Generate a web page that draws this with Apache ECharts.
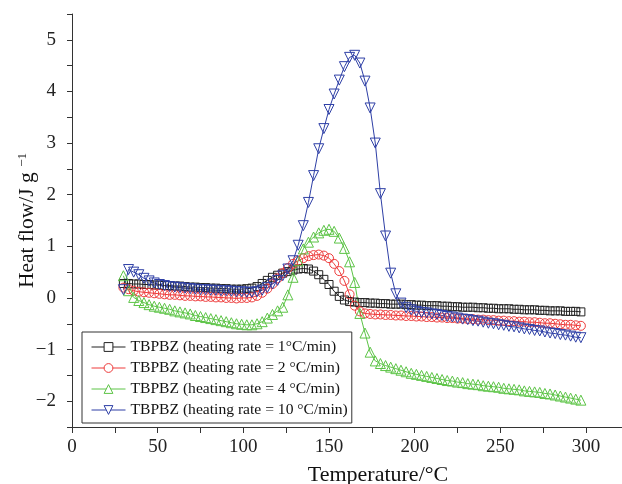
<!DOCTYPE html>
<html>
<head>
<meta charset="utf-8">
<title>TBPBZ DSC curves</title>
<script src="https://cdn.jsdelivr.net/npm/echarts@6/dist/echarts.min.js"></script>
<style>
  html, body { margin: 0; padding: 0; background: #fff; }
  #chart { width: 622px; height: 484px; }
</style>
</head>
<body>
<div id="chart"></div>
<script>
// Temperature (°C) at which each heat-flow reading was taken
const temperature = [
  30, 33, 36, 39, 42, 45, 48, 51, 54, 57, 60, 63, 66, 69, 72, 75, 78, 81, 84, 87,
  90, 93, 96, 99, 102, 105, 108, 111, 114, 117, 120, 123, 126, 129, 132, 135, 138, 141, 144, 147,
  150, 153, 156, 159, 162, 165, 168, 171, 174, 177, 180, 183, 186, 189, 192, 195, 198, 201, 204, 207,
  210, 213, 216, 219, 222, 225, 228, 231, 234, 237, 240, 243, 246, 249, 252, 255, 258, 261, 264, 267,
  270, 273, 276, 279, 282, 285, 288, 291, 294, 297
];

// Heat flow (J/g) at 1 °C/min
const rate1 = [
  0.28, 0.28, 0.27, 0.27, 0.26, 0.26, 0.25, 0.25, 0.24, 0.24, 0.23, 0.23, 0.22, 0.21, 0.21, 0.20, 0.20, 0.19, 0.19, 0.18,
  0.18, 0.17, 0.17, 0.17, 0.18, 0.19, 0.22, 0.28, 0.34, 0.40, 0.44, 0.48, 0.51, 0.54, 0.56, 0.57, 0.56, 0.52, 0.45, 0.36,
  0.26, 0.13, 0.03, -0.04, -0.07, -0.08, -0.09, -0.09, -0.10, -0.10, -0.11, -0.11, -0.12, -0.12, -0.12, -0.13, -0.13, -0.14, -0.14, -0.15,
  -0.15, -0.15, -0.16, -0.16, -0.17, -0.17, -0.18, -0.18, -0.18, -0.19, -0.19, -0.20, -0.20, -0.21, -0.21, -0.21, -0.22, -0.22, -0.23, -0.23,
  -0.23, -0.24, -0.24, -0.25, -0.25, -0.25, -0.26, -0.26, -0.26, -0.27
];

// Heat flow (J/g) at 2 °C/min
const rate2 = [
  0.20, 0.17, 0.14, 0.12, 0.11, 0.10, 0.09, 0.08, 0.07, 0.06, 0.06, 0.05, 0.04, 0.04, 0.03, 0.03, 0.02, 0.02, 0.01, 0.01,
  0.00, 0.00, -0.01, 0.00, 0.00, 0.01, 0.04, 0.10, 0.18, 0.27, 0.38, 0.48, 0.58, 0.66, 0.72, 0.77, 0.81, 0.83, 0.84, 0.82,
  0.77, 0.66, 0.52, 0.33, 0.07, -0.15, -0.26, -0.30, -0.31, -0.32, -0.32, -0.33, -0.33, -0.34, -0.34, -0.35, -0.35, -0.36, -0.36, -0.37,
  -0.37, -0.38, -0.38, -0.39, -0.39, -0.40, -0.40, -0.41, -0.41, -0.42, -0.42, -0.43, -0.43, -0.44, -0.44, -0.45, -0.45, -0.46, -0.46, -0.47,
  -0.47, -0.48, -0.49, -0.49, -0.50, -0.51, -0.52, -0.52, -0.53, -0.54
];

// Heat flow (J/g) at 4 °C/min
const rate4 = [
  0.43, 0.14, 0.01, -0.05, -0.09, -0.13, -0.16, -0.18, -0.20, -0.22, -0.25, -0.27, -0.29, -0.31, -0.34, -0.36, -0.38, -0.40, -0.42, -0.44,
  -0.46, -0.48, -0.50, -0.51, -0.52, -0.52, -0.50, -0.46, -0.39, -0.32, -0.25, -0.18, 0.06, 0.40, 0.72, 0.95, 1.08, 1.18, 1.26, 1.31,
  1.33, 1.29, 1.16, 0.96, 0.70, 0.30, -0.30, -0.68, -1.05, -1.22, -1.27, -1.31, -1.34, -1.37, -1.40, -1.43, -1.46, -1.48, -1.50, -1.52,
  -1.54, -1.56, -1.58, -1.60, -1.61, -1.63, -1.64, -1.66, -1.67, -1.68, -1.70, -1.71, -1.72, -1.73, -1.75, -1.76, -1.77, -1.78, -1.80, -1.81,
  -1.82, -1.83, -1.85, -1.86, -1.88, -1.90, -1.92, -1.94, -1.96, -1.98
];

// Heat flow (J/g) at 10 °C/min
const rate10 = [
  0.16, 0.55, 0.50, 0.45, 0.38, 0.33, 0.29, 0.26, 0.24, 0.22, 0.21, 0.20, 0.19, 0.18, 0.17, 0.16, 0.16, 0.15, 0.15, 0.14,
  0.14, 0.13, 0.12, 0.12, 0.11, 0.11, 0.12, 0.15, 0.20, 0.27, 0.34, 0.43, 0.56, 0.72, 1.02, 1.40, 1.85, 2.37, 2.89, 3.28,
  3.65, 3.95, 4.22, 4.48, 4.66, 4.70, 4.55, 4.20, 3.68, 3.00, 2.02, 1.20, 0.48, 0.08, -0.10, -0.19, -0.23, -0.26, -0.28, -0.29,
  -0.31, -0.32, -0.34, -0.36, -0.37, -0.39, -0.41, -0.42, -0.44, -0.45, -0.47, -0.49, -0.50, -0.52, -0.53, -0.55, -0.56, -0.58, -0.60, -0.61,
  -0.63, -0.64, -0.66, -0.68, -0.69, -0.71, -0.72, -0.74, -0.76, -0.77
];

const seriesNames = [
  'TBPBZ (heating rate = 1°C/min)',
  'TBPBZ (heating rate = 2 °C/min)',
  'TBPBZ (heating rate = 4 °C/min)',
  'TBPBZ (heating rate = 10 °C/min)'
];

const FONT = "'Liberation Serif', 'Times New Roman', serif";
const AXIS_COLOR = '#333';

function pairs(values) {
  return temperature.map((t, i) => [t, values[i]]);
}

function curve(name, values, color, symbol, size, rotate) {
  return {
    name: name,
    type: 'line',
    data: pairs(values),
    symbol: symbol,
    symbolSize: size,
    symbolRotate: rotate || 0,
    showAllSymbol: true,
    lineStyle: { color: color, width: 1 },
    itemStyle: { color: 'rgba(255,255,255,0)', borderColor: color, borderWidth: 1 },
    emphasis: { disabled: true }
  };
}

const chart = echarts.init(document.getElementById('chart'), null, { renderer: 'canvas' });

chart.setOption({
  animation: false,
  backgroundColor: '#fff',
  grid: { left: 72, right: 0, top: 14, bottom: 57, containLabel: false, outerBoundsMode: 'none' },
  legend: {
    orient: 'vertical',
    left: 82,
    top: 332,
    padding: [7, 4, 5, 9],
    itemGap: 5,
    itemWidth: 34,
    itemHeight: 11,
    borderColor: '#333',
    borderWidth: 1,
    backgroundColor: '#fff',
    itemStyle: { color: '#fff', borderWidth: 1 },
    lineStyle: { width: 1 },
    textStyle: { fontFamily: FONT, fontSize: 15.6, lineHeight: 16, color: '#111' },
    data: seriesNames
  },
  xAxis: {
    type: 'value',
    min: 0,
    max: 321,
    interval: 25,
    name: 'Temperature/°C',
    nameLocation: 'middle',
    nameGap: 37,
    nameMoveOverlap: false,
    nameTextStyle: { fontFamily: FONT, fontSize: 22, color: '#111', padding: [0, 0, 0, 62] },
    axisLine: { onZero: false, lineStyle: { color: AXIS_COLOR, width: 1 } },
    axisTick: { inside: false, length: 6, lineStyle: { color: AXIS_COLOR } },
    axisLabel: {
      fontFamily: FONT, fontSize: 19, color: '#222', margin: 11,
      showMaxLabel: false,
      formatter: v => (v % 50 === 0 ? String(v) : '')
    },
    splitLine: { show: false }
  },
  yAxis: {
    type: 'value',
    min: -2.5,
    max: 5.5,
    interval: 0.5,
    name: 'Heat flow/J g {sup|−1}',
    nameLocation: 'middle',
    nameGap: 33,
    nameMoveOverlap: false,
    nameTextStyle: {
      fontFamily: FONT, fontSize: 21.5, color: '#111',
      rich: {
        sup: { fontFamily: FONT, fontSize: 13, color: '#111', verticalAlign: 'top', padding: [0, 0, 10, 0] }
      }
    },
    axisLine: { onZero: false, lineStyle: { color: AXIS_COLOR, width: 1 } },
    axisTick: { inside: false, length: 5, lineStyle: { color: AXIS_COLOR } },
    axisLabel: {
      fontFamily: FONT, fontSize: 19, color: '#222', margin: 16,
      formatter: v => (Number.isInteger(v) ? (v < 0 ? '−' + Math.abs(v) : String(v)) : '')
    },
    splitLine: { show: false }
  },
  series: [
    curve(seriesNames[0], rate1, '#222222', 'rect', 8),
    curve(seriesNames[1], rate2, '#ee3b3b', 'circle', 9),
    curve(seriesNames[2], rate4, '#5cc446', 'triangle', 10),
    curve(seriesNames[3], rate10, '#2e3fa6', 'triangle', 10, 180)
  ]
});
</script>
</body>
</html>
